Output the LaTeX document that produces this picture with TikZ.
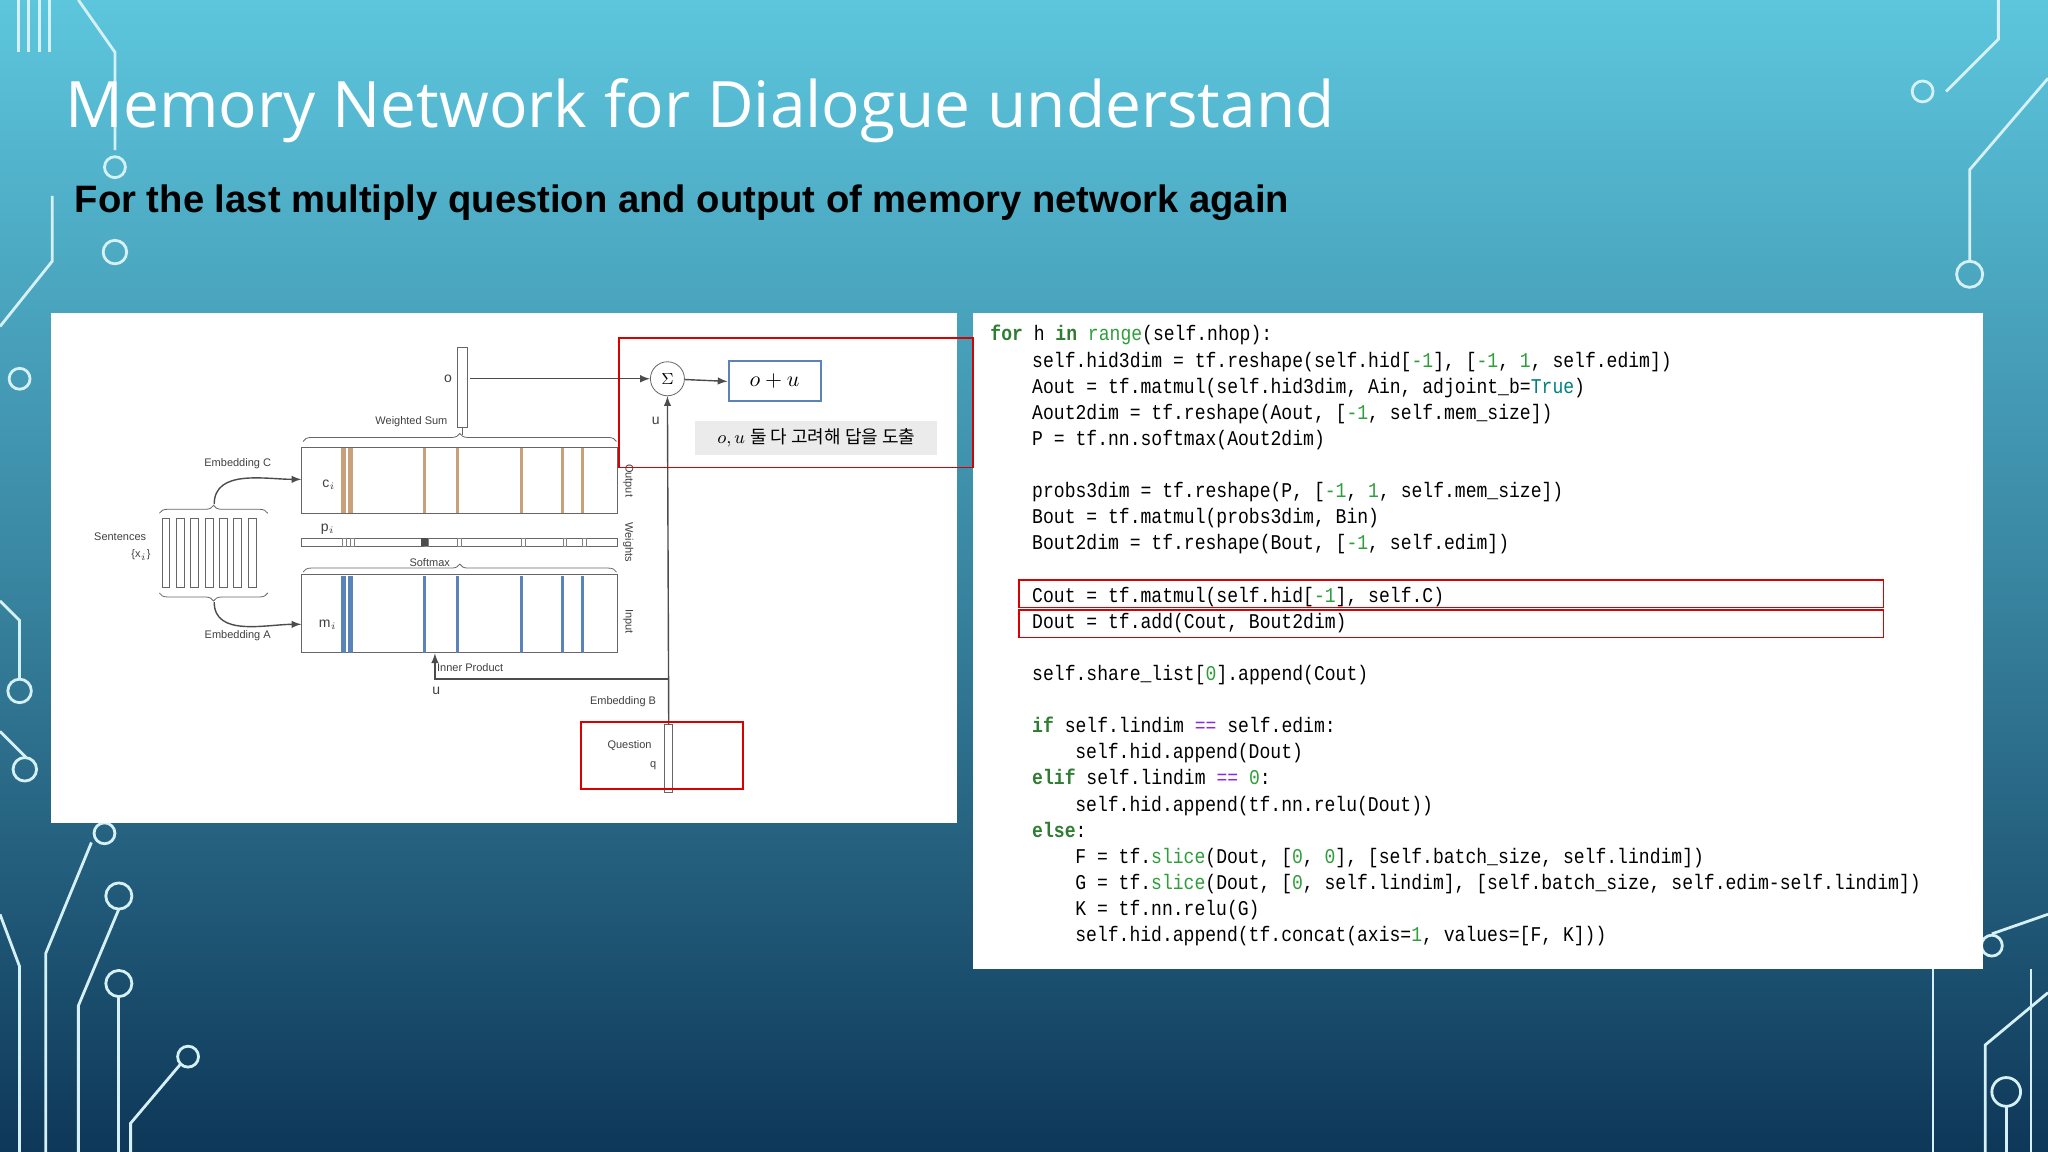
\documentclass[tikz,border=0pt]{standalone}
\usepackage{fontspec}
\setmainfont{Liberation Sans}
\newfontfamily\ttl{Open Sans}
\newfontfamily\code{Liberation Mono}[FakeStretch=0.86]
\newfontfamily\kr{Noto Sans CJK KR}
\usetikzlibrary{decorations.pathreplacing,calc}
\definecolor{bgtop}{HTML}{5CC6DD}
\definecolor{bgbot}{HTML}{0E3758}
\definecolor{kw}{HTML}{2E7D32}
\definecolor{nm}{HTML}{2E9E3A}
\definecolor{pu}{HTML}{8A2BE2}
\definecolor{orng}{HTML}{C8A07A}
\definecolor{blu}{HTML}{5A84B8}
\newcommand{\K}[1]{\textcolor{kw}{\bfseries #1}}
\newcommand{\N}[1]{\textcolor{nm}{#1}}
\begin{document}
\begin{tikzpicture}[x=0.653pt,y=-0.653pt,
  lbl/.style={font=\fontsize{5.5}{6}\selectfont,inner sep=0pt,text=black!75},
  red/.style={draw=red!85!black,line width=0.8pt},
  vec/.style={draw=black!60,fill=white,line width=0.5pt},
  arr/.style={->,>=latex,draw=black!70,line width=0.7pt},
  circ/.style={draw=white!75!bgtop,line width=1.4pt},
  codeln/.style={anchor=base west,inner sep=0pt,font=\code\fontsize{10.5}{12}\selectfont}]
\useasboundingbox (0,0) rectangle (1568,882);
\shade[top color=bgtop,bottom color=bgbot,middle color=bgtop!55!bgbot] (0,0) rectangle (1568,882);
% circuit decorations
\foreach \x in {14,22,30,38} \draw[circ] (\x,0) -- (\x,40);
\draw[circ] (60,0) -- (88,40) -- (88,115);
\draw[circ] (88,128) circle (8);
\draw[circ] (88,193) circle (9);
\draw[circ] (15,290) circle (8);
\draw[circ] (0,250) -- (40,200) -- (40,150);
\draw[circ] (0,460) -- (15,475) -- (15,520);
\draw[circ] (15,529) circle (9);
\draw[circ] (0,560) -- (20,580);
\draw[circ] (19,589) circle (9);
\draw[circ] (80,638) circle (8);
\draw[circ] (70,645) -- (35,730) -- (35,882);
\draw[circ] (91,686) circle (10);
\draw[circ] (91,696) -- (60,770) -- (60,882);
\draw[circ] (91,753) circle (10);
\draw[circ] (91,763) -- (91,882);
\draw[circ] (144,809) circle (8);
\draw[circ] (138,815) -- (100,860) -- (100,882);
\draw[circ] (0,700) -- (15,740) -- (15,882);
\draw[circ] (1530,0) -- (1530,30) -- (1490,70);
\draw[circ] (1472,70) circle (8);
\draw[circ] (1568,60) -- (1508,130) -- (1508,200);
\draw[circ] (1508,210) circle (10);
\draw[circ] (1568,700) -- (1525,715);
\draw[circ] (1525,724) circle (8);
\draw[circ] (1480,742) -- (1480,882);
\draw[circ] (1568,760) -- (1520,800) -- (1520,882);
\draw[circ] (1536,836) circle (11);
\draw[circ] (1536,847) -- (1536,882);
\draw[circ] (1555,742) -- (1555,882);
% titles
\node[anchor=base west,inner sep=0pt,text=white,font=\ttl\fontsize{32}{36}\selectfont] (title) at (50,98) {Memory Network for Dialogue understand};
\node[anchor=base west,inner sep=0pt,text=black,font=\bfseries\fontsize{19.1}{21}\selectfont] (sub) at (57,163) {For the last multiply question and output of memory network again};
% panels
\fill[white] (39,240) rectangle (733,630);
\fill[white] (745,240) rectangle (1518,742);
% ---- diagram ----
\node[vec,minimum width=5pt,minimum height=40pt,inner sep=0pt] (ovec) at (354,297) {};
\node[lbl,font=\fontsize{7}{8}\selectfont] (olab) at (343,290) {o};
\node[draw=black!60,circle,minimum size=17pt,inner sep=0pt,font=\fontsize{8}{8}\selectfont] (sig) at (511,290) {$\Sigma$};
\draw[arr] (360,290) -- (sig);
\node[draw=blu,line width=1pt,minimum width=46pt,minimum height=20pt,font=\fontsize{11}{12}\selectfont] (ou) at (593,292) {$o+u$};
\draw[arr] (sig) -- (ou.west);
\node[lbl,font=\fontsize{7}{8}\selectfont] (ulab) at (502,322) {u};
\node[fill=black!8,minimum width=121pt,minimum height=17pt,inner sep=0pt,font=\fontsize{9}{10}\selectfont] (kor) at (625,335) {$o,u$ \kr 둘 다 고려해 답을 도출};
% C memory
\node[draw=black!60,minimum width=158pt,minimum height=33pt,inner sep=0pt] (C) at (352,368) {};
\foreach \x/\w in {263/2.5,268/2.5,325/1.5,350/1.5,399/1.5,431/1.5,446/1.5} \draw[orng,line width=\w pt] (\x,343) -- (\x,393);
\node[lbl,font=\fontsize{7}{8}\selectfont] (ci) at (252,371) {c$_i$};
\draw[decorate,decoration={brace,amplitude=4pt},black!60] (232,338) -- (472,338);
\node[lbl] (ws) at (315,323) {Weighted Sum};
\draw[black!60] (354,328) -- (354,333);
% weights
\node[draw=black!60,minimum width=158pt,minimum height=4pt,inner sep=0pt] (W) at (352,415) {};
\foreach \x in {262,268,325,350,399,431,446} \draw[black!50] (\x,412) rectangle (\x+3,418);
\fill[black!70] (322,412) rectangle (328,418);
\node[lbl,font=\fontsize{7}{8}\selectfont] (pi) at (251,405) {p$_i$};
\draw[decorate,decoration={brace,amplitude=4pt},black!60] (232,438) -- (472,438);
\node[lbl] (sm) at (329,431) {Softmax};
% A memory
\node[draw=black!60,minimum width=158pt,minimum height=39pt,inner sep=0pt] (A) at (352,470) {};
\foreach \x/\w in {263/2.5,268/2.5,325/1.5,350/1.5,399/1.5,431/1.5,446/1.5} \draw[blu,line width=\w pt] (\x,441) -- (\x,500);
\node[lbl,font=\fontsize{7}{8}\selectfont] (mi) at (251,478) {m$_i$};
\node[lbl,rotate=-90] (outl) at (481,368) {Output};
\node[lbl,rotate=-90] (wl) at (481,415) {Weights};
\node[lbl,rotate=-90] (inl) at (481,476) {Input};
% sentences
\foreach \x in {127,138,149,160,171,182,193} \draw[black!60] (\x-3,397) rectangle (\x+3,450);
\draw[decorate,decoration={brace,amplitude=4pt},black!60] (122,393) -- (205,393);
\draw[decorate,decoration={brace,amplitude=4pt,mirror},black!60] (122,454) -- (205,454);
\coordinate (st) at (164,386);
\coordinate (sb) at (164,461);
\draw[arr] (st) to[out=90,in=180] (A.west |- 0,367) ;
\draw[arr] (sb) to[out=-90,in=180] (A.west |- 0,478);
\node[lbl] (sent) at (92,411) {Sentences};
\node[lbl] (xi) at (108,425) {\{x$_i$\}};
\node[lbl] (ec) at (182,355) {Embedding C};
\node[lbl] (ea) at (182,487) {Embedding A};
% question
\node[vec,minimum width=4pt,minimum height=34pt,inner sep=0pt] (q) at (512,581) {};
\coordinate (uj) at (512,520);
\draw[arr] (q.north) -- (sig.south);
\coordinate (ip) at (333,520);
\draw[arr] (uj) -- (ip) -- (A.south -| ip);
\node[lbl] (ipl) at (360,511) {Inner Product};
\node[lbl,font=\fontsize{7}{8}\selectfont] (u2) at (334,529) {u};
\node[lbl] (eb) at (477,537) {Embedding B};
\node[lbl] (ql) at (482,571) {Question};
\node[lbl] (qq) at (500,586) {q};
\draw[red] (474,259) rectangle (745,358);
\draw[red] (445,553) rectangle (569,604);
% ---- code ----
\begin{scope}[every node/.style={codeln}]
\node at (758,261) {\K{for} h \K{in} \N{range}(self.nhop):};
\node at (790,281) {self.hid3dim = tf.reshape(self.hid[\N{-1}], [\N{-1}, \N{1}, self.edim])};
\node at (790,301) {Aout = tf.matmul(self.hid3dim, Ain, adjoint\_b=\textcolor{teal}{True})};
\node at (790,321) {Aout2dim = tf.reshape(Aout, [\N{-1}, self.mem\_size])};
\node at (790,341) {P = tf.nn.softmax(Aout2dim)};
\node at (790,381) {probs3dim = tf.reshape(P, [\N{-1}, \N{1}, self.mem\_size])};
\node at (790,401) {Bout = tf.matmul(probs3dim, Bin)};
\node at (790,421) {Bout2dim = tf.reshape(Bout, [\N{-1}, self.edim])};
\node at (790,461) {Cout = tf.matmul(self.hid[\N{-1}], self.C)};
\node at (790,481) {Dout = tf.add(Cout, Bout2dim)};
\node at (790,521) {self.share\_list[\N{0}].append(Cout)};
\node at (790,561) {\K{if} self.lindim \textcolor{pu}{==} self.edim:};
\node at (823,581) {self.hid.append(Dout)};
\node at (790,601) {\K{elif} self.lindim \textcolor{pu}{==} \N{0}:};
\node at (823,621) {self.hid.append(tf.nn.relu(Dout))};
\node at (790,641) {\K{else}:};
\node at (823,661) {F = tf.\N{slice}(Dout, [\N{0}, \N{0}], [self.batch\_size, self.lindim])};
\node at (823,681) {G = tf.\N{slice}(Dout, [\N{0}, self.lindim], [self.batch\_size, self.edim-self.lindim])};
\node at (823,701) {K = tf.nn.relu(G)};
\node at (823,721) {self.hid.append(tf.concat(axis=\N{1}, values=[F, K]))};
\end{scope}
\draw[red] (780,444) rectangle (1442,465);
\draw[red] (780,467) rectangle (1442,488);
\end{tikzpicture}
\end{document}
